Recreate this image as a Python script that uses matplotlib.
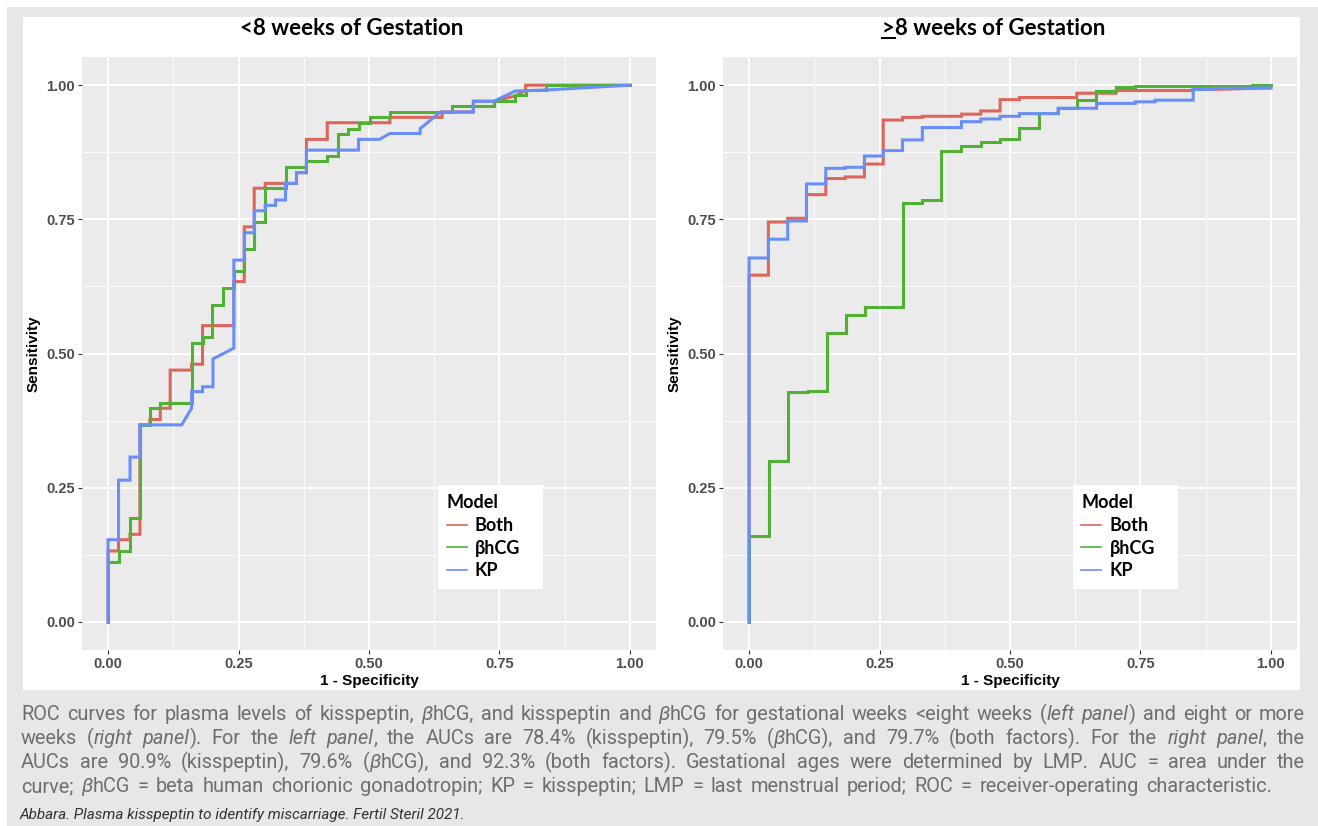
import matplotlib
matplotlib.use('agg')
import matplotlib.pyplot as plt
from matplotlib.lines import Line2D
from matplotlib.patches import Rectangle

W, H = 1318, 826

# ROC vertices, <8 weeks panel
lt8_both_fpr = [0, 0, 0.020, 0.020, 0.042, 0.042, 0.061, 0.061, 0.080, 0.080, 0.100, 0.100, 0.119, 0.119,
                0.160, 0.160, 0.181, 0.181, 0.241, 0.241, 0.261, 0.261, 0.280, 0.280, 0.301, 0.301, 0.361,
                0.361, 0.380, 0.380, 0.420, 0.420, 0.540, 0.540, 0.640, 0.640, 0.700, 0.700, 0.739, 0.780,
                0.800, 0.800, 1.0]
lt8_both_tpr = [0, 0.132, 0.132, 0.153, 0.153, 0.163, 0.163, 0.367, 0.367, 0.377, 0.377, 0.398, 0.398, 0.469,
                0.469, 0.480, 0.480, 0.552, 0.552, 0.634, 0.634, 0.736, 0.736, 0.808, 0.808, 0.817, 0.817,
                0.837, 0.837, 0.899, 0.899, 0.930, 0.930, 0.940, 0.940, 0.950, 0.950, 0.970, 0.970, 0.980,
                0.990, 1.0, 1.0]

lt8_hcg_fpr = [0, 0, 0.020, 0.020, 0.042, 0.042, 0.061, 0.061, 0.080, 0.080, 0.100, 0.100, 0.160, 0.160,
               0.181, 0.181, 0.200, 0.200, 0.221, 0.221, 0.241, 0.241, 0.261, 0.261, 0.280, 0.280, 0.301,
               0.301, 0.340, 0.340, 0.380, 0.380, 0.420, 0.420, 0.440, 0.440, 0.460, 0.460, 0.480, 0.480,
               0.501, 0.501, 0.540, 0.540, 0.660, 0.660, 0.739, 0.739, 0.780, 0.780, 0.800, 0.800, 0.840,
               0.840, 1.0]
lt8_hcg_tpr = [0, 0.112, 0.112, 0.132, 0.132, 0.193, 0.193, 0.367, 0.367, 0.398, 0.398, 0.408, 0.408, 0.520,
               0.520, 0.531, 0.531, 0.591, 0.591, 0.622, 0.622, 0.654, 0.654, 0.694, 0.694, 0.745, 0.745,
               0.808, 0.808, 0.848, 0.848, 0.858, 0.858, 0.868, 0.868, 0.909, 0.909, 0.919, 0.919, 0.930,
               0.930, 0.940, 0.940, 0.950, 0.950, 0.961, 0.961, 0.970, 0.970, 0.981, 0.981, 0.991, 0.991,
               1.0, 1.0]

lt8_kp_fpr = [0, 0, 0.020, 0.020, 0.042, 0.042, 0.061, 0.061, 0.141, 0.160, 0.160, 0.181, 0.181, 0.201,
              0.201, 0.221, 0.241, 0.241, 0.261, 0.261, 0.280, 0.280, 0.301, 0.301, 0.321, 0.321, 0.340,
              0.340, 0.361, 0.361, 0.380, 0.380, 0.480, 0.480, 0.520, 0.540, 0.598, 0.598, 0.637, 0.700,
              0.700, 0.739, 0.780, 0.840, 1.0]
lt8_kp_tpr = [0, 0.153, 0.153, 0.264, 0.264, 0.307, 0.307, 0.367, 0.367, 0.398, 0.429, 0.429, 0.438, 0.438,
              0.490, 0.500, 0.510, 0.674, 0.674, 0.725, 0.725, 0.766, 0.766, 0.776, 0.776, 0.786, 0.786,
              0.817, 0.817, 0.837, 0.837, 0.879, 0.879, 0.899, 0.899, 0.910, 0.910, 0.919, 0.950, 0.950,
              0.970, 0.970, 0.989, 0.991, 1.0]

# >=8 weeks panel
ge8_both_fpr = [0, 0, 0.037, 0.037, 0.074, 0.074, 0.110, 0.110, 0.147, 0.147, 0.184, 0.184, 0.221, 0.221,
                0.257, 0.257, 0.294, 0.294, 0.332, 0.332, 0.407, 0.407, 0.444, 0.444, 0.481, 0.481, 0.518,
                0.518, 0.628, 0.628, 0.703, 0.703, 0.851, 0.851, 0.889, 1.0]
ge8_both_tpr = [0, 0.646, 0.646, 0.745, 0.745, 0.752, 0.752, 0.796, 0.796, 0.826, 0.826, 0.829, 0.829, 0.853,
                0.853, 0.935, 0.935, 0.940, 0.940, 0.942, 0.942, 0.946, 0.946, 0.952, 0.952, 0.973, 0.973,
                0.977, 0.977, 0.985, 0.985, 0.990, 0.990, 0.992, 0.992, 0.995]

ge8_hcg_fpr = [0, 0, 0.038, 0.038, 0.074, 0.074, 0.112, 0.112, 0.149, 0.149, 0.185, 0.185, 0.222, 0.222,
               0.295, 0.295, 0.332, 0.332, 0.368, 0.368, 0.407, 0.407, 0.444, 0.444, 0.481, 0.481, 0.518,
               0.518, 0.555, 0.555, 0.592, 0.592, 0.628, 0.628, 0.665, 0.665, 0.703, 0.703, 0.740, 0.740,
               0.964, 0.964, 1.0]
ge8_hcg_tpr = [0, 0.160, 0.160, 0.300, 0.300, 0.429, 0.429, 0.431, 0.431, 0.539, 0.539, 0.572, 0.572, 0.587,
               0.587, 0.781, 0.781, 0.786, 0.786, 0.878, 0.878, 0.887, 0.887, 0.894, 0.894, 0.899, 0.899,
               0.921, 0.921, 0.949, 0.949, 0.957, 0.957, 0.972, 0.972, 0.990, 0.990, 0.997, 0.997, 0.998,
               0.998, 1.0, 1.0]

ge8_kp_fpr = [0, 0, 0.037, 0.037, 0.074, 0.074, 0.110, 0.110, 0.147, 0.147, 0.184, 0.184, 0.221, 0.221,
              0.257, 0.257, 0.294, 0.294, 0.332, 0.332, 0.407, 0.407, 0.444, 0.444, 0.481, 0.481, 0.518,
              0.518, 0.592, 0.592, 0.666, 0.666, 0.740, 0.740, 0.778, 0.778, 0.851, 0.851, 0.889, 0.889, 1.0]
ge8_kp_tpr = [0, 0.678, 0.678, 0.713, 0.713, 0.747, 0.747, 0.816, 0.816, 0.845, 0.845, 0.847, 0.847, 0.868,
              0.868, 0.878, 0.878, 0.898, 0.898, 0.921, 0.921, 0.932, 0.932, 0.937, 0.937, 0.942, 0.942,
              0.947, 0.947, 0.957, 0.957, 0.966, 0.966, 0.969, 0.969, 0.972, 0.972, 0.992, 0.992, 0.994, 0.995]

models = ['Both', 'βhCG', 'KP']
colors = ['#DD665C', '#52B034', '#6A8EF7']
ticks = [0, 0.25, 0.5, 0.75, 1.0]
tick_labels = ['0.00', '0.25', '0.50', '0.75', '1.00']

caption_lines = [
    "ROC curves for plasma levels of kisspeptin, _β_hCG, and kisspeptin and _β_hCG for gestational weeks <eight weeks (_left panel_) and eight or more",
    "weeks (_right panel_). For the _left panel_, the AUCs are 78.4% (kisspeptin), 79.5% (_β_hCG), and 79.7% (both factors). For the _right panel_, the",
    "AUCs are 90.9% (kisspeptin), 79.6% (_β_hCG), and 92.3% (both factors). Gestational ages were determined by LMP. AUC = area under the",
    "curve; _β_hCG = beta human chorionic gonadotropin; KP = kisspeptin; LMP = last menstrual period; ROC = receiver-operating characteristic.",
]
citation = "Abbara. Plasma kisspeptin to identify miscarriage. Fertil Steril 2021."

fig = plt.figure(figsize=(W / 100, H / 100), dpi=100)
fig.patch.set_facecolor('white')
fig.add_artist(Rectangle((7 / W, 0), 1, 1 - 7 / H, transform=fig.transFigure,
                         facecolor='#e6e7e8', edgecolor='none', zorder=-5))
fig.add_artist(Rectangle((23 / W, 1 - 690 / H), 1277 / W, 673 / H, transform=fig.transFigure,
                         facecolor='white', edgecolor='none', zorder=-4))
renderer = fig.canvas.get_renderer()


def draw_panel(left_px, series, title, title_x, legend_x, underline_first=False):
    ax = fig.add_axes([left_px / W, 1 - 650 / H, 574 / W, 593 / H])
    ax.set_facecolor('#ebebeb')
    for s in ax.spines.values():
        s.set_visible(False)
    ax.set_xlim(-0.05, 1.05)
    ax.set_ylim(-0.0525, 1.0525)
    ax.set_xticks(ticks)
    ax.set_xticklabels(tick_labels)
    ax.set_yticks(ticks)
    ax.set_yticklabels(tick_labels)
    ax.set_xticks([0.125, 0.375, 0.625, 0.875], minor=True)
    ax.set_yticks([0.125, 0.375, 0.625, 0.875], minor=True)
    ax.grid(which='major', color='white', lw=1.3)
    ax.grid(which='minor', color='white', lw=0.6)
    ax.set_axisbelow(True)
    ax.tick_params(which='major', length=3, width=0.8, color='#333333', pad=2,
                   labelsize=10.5, labelcolor='#4d4d4d')
    ax.tick_params(which='minor', length=0)
    for lab in ax.get_xticklabels() + ax.get_yticklabels():
        lab.set_fontweight('bold')
        lab.set_family('Liberation Sans')

    for (fpr, tpr), c in zip(series, colors):
        ax.plot(fpr, tpr, color=c, lw=2.2, solid_joinstyle='miter')

    ax.set_xlabel('1 - Specificity', fontsize=11, fontweight='bold', family='Liberation Sans', labelpad=2)
    ax.set_ylabel('Sensitivity', fontsize=11, fontweight='bold', family='Liberation Sans', labelpad=4)

    ax.add_patch(Rectangle((legend_x, 0.103), 0.183, 0.175, transform=ax.transAxes,
                           facecolor='white', edgecolor='none', zorder=4, clip_on=False))
    handles = [Line2D([], [], color=c, lw=1.2) for c in colors]
    leg = ax.legend(handles, models, title='Model', loc='upper left',
                    bbox_to_anchor=(legend_x + 0.006, 0.272), frameon=False,
                    prop=dict(family=['Lato', 'DejaVu Sans'], weight='bold', size=13),
                    title_fontproperties=dict(family='Lato', weight='bold', size=13),
                    alignment='left', handlelength=1.1, handletextpad=0.45,
                    labelspacing=0.32, borderpad=0.3, borderaxespad=0)
    leg.set_zorder(5)

    t = fig.text(title_x / W, 1 - 35 / H, title, ha='center', va='baseline', fontsize=16,
                 fontweight='bold', family='Lato')
    if underline_first:
        # underline the first character (">" shown as the >= sign)
        bb = t.get_window_extent(renderer)
        probe = fig.text(0, 0, title[0], fontsize=16, fontweight='bold', family='Lato')
        gw = probe.get_window_extent(renderer).width
        probe.remove()
        yb = (H - 38) / H
        fig.add_artist(Line2D([bb.x0 / W, (bb.x0 + gw) / W], [yb, yb], color='black', lw=1.4,
                              transform=fig.transFigure))
    return ax


draw_panel(82, [(lt8_both_fpr, lt8_both_tpr), (lt8_hcg_fpr, lt8_hcg_tpr), (lt8_kp_fpr, lt8_kp_tpr)],
           '<8 weeks of Gestation', 352, 0.620)
draw_panel(723, [(ge8_both_fpr, ge8_both_tpr), (ge8_hcg_fpr, ge8_hcg_tpr), (ge8_kp_fpr, ge8_kp_tpr)],
           '>8 weeks of Gestation', 994, 0.609, underline_first=True)

# caption, justified word by word
cap_font = ['Roboto', 'DejaVu Sans']
line_y = [720, 744, 768, 792]
line_end = [1305, 1305, 1305, 1272]
italic = False
for line, y, x_end in zip(caption_lines, line_y, line_end):
    words = []
    for w in line.split(' '):
        arts = []
        for k, p in enumerate(w.split('_')):
            if k > 0:
                italic = not italic
            if p:
                arts.append(fig.text(0, 1 - y / H, p, fontsize=14.3, color='#6d6e71', family=cap_font,
                                     style='italic' if italic else 'normal', va='baseline'))
        words.append(arts)
    widths = [[a.get_window_extent(renderer).width for a in arts] for arts in words]
    total = sum(sum(ws) for ws in widths)
    gap = (x_end - 21 - total) / (len(words) - 1)
    x = 21
    for arts, ws in zip(words, widths):
        for a, wd in zip(arts, ws):
            a.set_x(x / W)
            x += wd
        x += gap

fig.text(20 / W, 1 - 819 / H, citation, fontsize=11, style='italic', color='#333333',
         family=cap_font, va='baseline')

fig.savefig('out.png', dpi=100)
